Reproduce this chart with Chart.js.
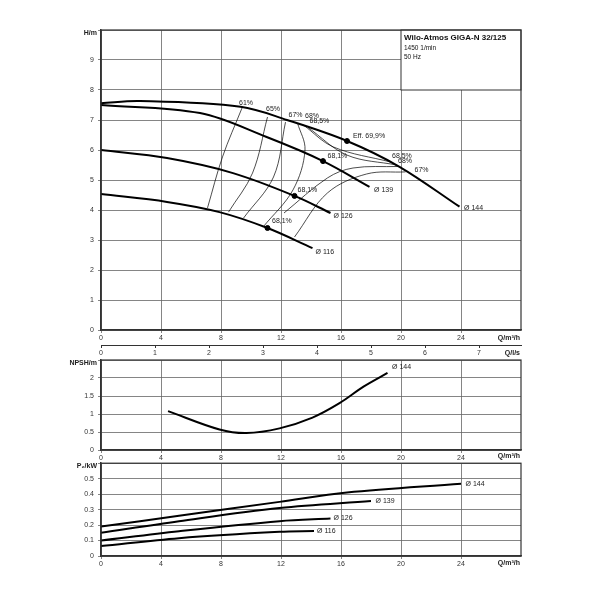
<!DOCTYPE html>
<html><head><meta charset="utf-8">
<script src="https://cdn.jsdelivr.net/npm/chart.js@4/dist/chart.umd.min.js"></script>
<style>body{margin:0;background:#fff}canvas{position:absolute;left:0}</style></head>
<body>
<canvas id="c1" style="top:0px" width="600" height="365"></canvas>
<canvas id="c2" style="top:350px" width="600" height="115"></canvas>
<canvas id="c3" style="top:455px" width="600" height="115"></canvas>
<script>
// Head curves [Q m3/h, H m]
const h144=[[0,7.56],[2.6,7.63],[9.3,7.44],[12.4,7.0],[16.4,6.3],[19.9,5.44],[23.9,4.11]];
const h139=[[0,7.5],[6.6,7.23],[11,6.44],[14.8,5.63],[17.9,4.77]];
const h126=[[0,6.0],[4.4,5.73],[8.8,5.23],[12.9,4.47],[15.3,3.9]];
const h116=[[0,4.53],[4.4,4.27],[7.9,3.93],[11.1,3.4],[14.1,2.73]];
const bep=[[16.4,6.3],[14.8,5.63],[12.9,4.47],[11.1,3.4]];
// efficiency iso-lines
const e61=[[7.1,4.07],[8.1,5.77],[9.4,7.4]];
const e65=[[8.5,3.93],[10.1,5.23],[11.1,7.1]];
const e67a=[[9.5,3.73],[11.5,5.1],[12.3,6.93]];
const e68a=[[10.8,3.43],[12.8,4.67],[13.6,6.0],[13.1,6.9]];
const e685=[[13.5,6.83],[15.5,6.1],[19.3,5.6]];
const e68b=[[13.8,6.75],[16.4,5.83],[19.7,5.5]];
const e68c=[[12.2,3.9],[15.1,5.07],[16.8,5.4],[19.8,5.45]];
const e67b=[[12.9,3.1],[15.1,4.57],[17.7,5.2],[20.3,5.27]];
// NPSH
const npsh144=[[4.47,1.08],[7.9,0.57],[9.7,0.47],[11.9,0.6],[14.1,0.9],[15.9,1.3],[17.5,1.76],[19.1,2.14]];
// Power P2 kW
const p144=[[0,0.19],[5.2,0.26],[11.9,0.35],[16.4,0.41],[24,0.467]];
const p139=[[0,0.15],[5.2,0.225],[11.9,0.31],[18,0.355]];
const p126=[[0,0.10],[5.2,0.16],[11.9,0.225],[15.3,0.242]];
const p116=[[0,0.064],[5.2,0.115],[11.9,0.156],[14.2,0.161]];
const qTicks=[0,4,8,12,16,20,24];

const F='"Liberation Sans", Arial, sans-serif';
const pts=a=>a.map(p=>({x:p[0],y:p[1]}));
const curve=(a,w)=>({data:pts(a),borderColor:'#000',borderWidth:w,pointRadius:0,tension:0.35,fill:false});
function texts(list){return {id:'t',afterDatasetsDraw(c){const x=c.scales.x,y=c.scales.y,g=c.ctx;g.save();g.fillStyle='#222';
 list.forEach(t=>{g.font=(t.b?'bold ':'')+(t.s||7)+'px '+F;g.textAlign=t.a||'left';g.textBaseline='middle';
 const px=t.px!==undefined?t.px:x.getPixelForValue(t.x),py=t.py!==undefined?t.py:y.getPixelForValue(t.y);g.fillText(t.t,px,py);});g.restore();}};}
function opts(ymax,ystep,padTop,xh,yfmt,extraX){
 const s={x:{type:'linear',min:0,max:28,afterBuildTicks(a){a.ticks=qTicks.map(v=>({value:v}));},
   afterFit(a){a.height=xh;},grid:{color:'#666',lineWidth:0.8,tickLength:3},border:{color:'#333',width:1.5},
   ticks:{font:{size:7,family:F},color:'#333',padding:1,maxRotation:0}},
  y:{min:0,max:ymax,ticks:{stepSize:ystep,font:{size:7,family:F},color:'#333',padding:4,callback:yfmt},
   afterFit(a){a.width=101;},grid:{color:'#666',lineWidth:0.8,tickLength:3},border:{color:'#333',width:1.5}}};
 if(extraX)Object.assign(s,extraX);
 return {responsive:false,animation:false,events:[],layout:{padding:{top:padTop,right:79,left:0,bottom:0}},
  plugins:{legend:{display:false},tooltip:{enabled:false}},scales:s};}
const frame={id:'fr',afterDraw(c){const a=c.chartArea,g=c.ctx;g.save();g.strokeStyle='#333';g.lineWidth=1.2;g.strokeRect(a.left,a.top,a.right-a.left,a.bottom-a.top);g.restore();}};

// chart 1
const o1=opts(10,1,30,15,v=>v===10?'':v,{x2:{type:'linear',position:'bottom',min:0,max:28/3.6,
 afterBuildTicks(a){a.ticks=[0,1,2,3,4,5,6,7].map(v=>({value:v}));},afterFit(a){a.height=20;},
 grid:{drawOnChartArea:false,color:'#333',tickLength:3},border:{color:'#333',width:1},
 ticks:{font:{size:7,family:F},color:'#333',padding:1,maxRotation:0}}});
const box={id:'box',beforeDatasetsDraw(c){const x=c.scales.x,y=c.scales.y,g=c.ctx;const l=x.getPixelForValue(20),t=y.getPixelForValue(10),b=y.getPixelForValue(8),r=x.getPixelForValue(28);
 g.save();g.fillStyle='#fff';g.fillRect(l,t,r-l,b-t);g.strokeStyle='#333';g.lineWidth=1;g.strokeRect(l,t,r-l,b-t);
 g.fillStyle='#111';g.font='bold 8px '+F;g.textBaseline='middle';g.fillText('Wilo-Atmos GIGA-N 32/125',l+3,t+8);
 g.font='6.5px '+F;g.fillText('1450 1/min',l+3,t+18);g.fillText('50 Hz',l+3,t+27);g.restore();}};
new Chart('c1',{type:'line',data:{datasets:[
 ...[e61,e65,e67a,e68a,e685,e68b,e68c,e67b].map(a=>curve(a,0.7)),
 curve(h144,2),curve(h139,2),curve(h126,2),curve(h116,2),
 {type:'scatter',data:pts(bep),pointRadius:2.5,pointBackgroundColor:'#000',pointBorderColor:'#000'}]},
 options:o1,plugins:[box,frame,texts([
 {t:'H/m',px:97,py:33,a:'right',b:1,s:7},{t:'Q/m³/h',px:520,py:338,a:'right',b:1,s:7},{t:'Q/l/s',px:520,py:353,a:'right',b:1,s:7},
 {t:'61%',x:9.2,y:7.55},{t:'65%',x:11,y:7.35},{t:'67%',x:12.5,y:7.18},{t:'68%',x:13.6,y:7.12},{t:'68,5%',x:13.9,y:6.95},
 {t:'Eff. 69,9%',x:16.8,y:6.45},{t:'68,1%',x:15.1,y:5.8},{t:'68,1%',x:13.1,y:4.65},{t:'68,1%',x:11.4,y:3.63},
 {t:'68,5%',x:19.4,y:5.8},{t:'68%',x:19.8,y:5.62},{t:'67%',x:20.9,y:5.33},
 {t:'Ø 144',x:24.2,y:4.05},{t:'Ø 139',x:18.2,y:4.65},{t:'Ø 126',x:15.5,y:3.8},{t:'Ø 116',x:14.3,y:2.6}])]});

// chart 2
new Chart('c2',{type:'line',data:{datasets:[curve(npsh144,2)]},
 options:opts(2.5,0.5,10,15,v=>v===2.5?'':v),plugins:[frame,texts([
 {t:'NPSH/m',px:97,py:13,a:'right',b:1,s:7},{t:'Q/m³/h',px:520,py:106,a:'right',b:1,s:7},{t:'Ø 144',x:19.4,y:2.3}])]});

// chart 3
new Chart('c3',{type:'line',data:{datasets:[curve(p144,2),curve(p139,2),curve(p126,2),curve(p116,2)]},
 options:opts(0.6,0.1,8,14,v=>{v=Math.round(v*10)/10;return v===0.6?'':v;}),plugins:[frame,texts([
 {t:'P₂/kW',px:97,py:11,a:'right',b:1,s:7},{t:'Q/m³/h',px:520,py:108,a:'right',b:1,s:7},
 {t:'Ø 144',x:24.3,y:0.467},{t:'Ø 139',x:18.3,y:0.355},{t:'Ø 126',x:15.5,y:0.245},{t:'Ø 116',x:14.4,y:0.163}])]});
</script></body></html>
